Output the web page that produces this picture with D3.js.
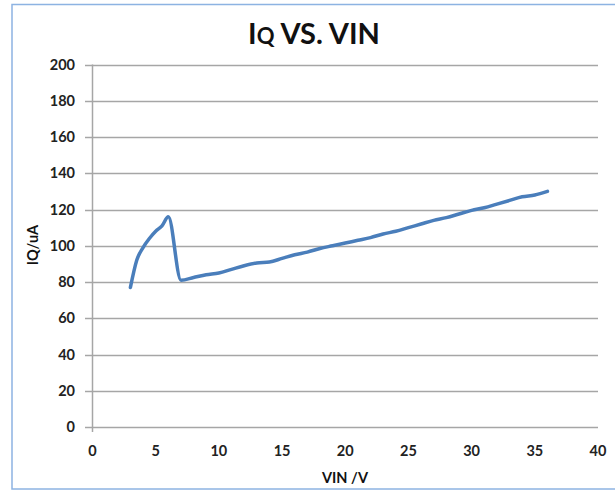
<!DOCTYPE html>
<html><head><meta charset="utf-8">
<script src="https://cdn.jsdelivr.net/npm/d3@7"></script>
<style>
html,body{margin:0;padding:0;background:#fff;}
text{font-family:Lato,"Open Sans",sans-serif;}
</style></head>
<body><svg id="c" width="615" height="491"></svg>
<script>
const vin = [3, 3.5, 4, 4.5, 5, 5.5, 6, 7, 8, 9, 10, 11, 12, 13, 14, 15, 16, 17, 18, 19, 20, 21, 22, 23, 24, 25, 26, 27, 28, 29, 30, 31, 32, 33, 34, 35, 36];
const iq  = [77, 92, 99, 104, 108, 111, 116, 81, 82.5, 84, 85, 87, 89, 90.5, 91, 93, 95, 96.5, 98.5, 100, 101.5, 103, 104.5, 106.5, 108, 110, 112, 114, 115.5, 117.5, 119.5, 121, 123, 125, 127, 128, 130];
const xTicks = [0, 5, 10, 15, 20, 25, 30, 35, 40];
const yTicks = [0, 20, 40, 60, 80, 100, 120, 140, 160, 180, 200];

const svg = d3.select("#c");
// frame
svg.append("rect").attr("x", 12).attr("y", 4.5).attr("width", 640).attr("height", 484.5)
  .attr("fill", "#fff").attr("stroke", "#8db3e2").attr("stroke-width", 1.5);

const x = d3.scaleLinear().domain([0, 40]).range([92.5, 598]);
const y = d3.scaleLinear().domain([0, 200]).range([427, 64.5]);

// gridlines
svg.append("g").selectAll("line").data(yTicks).join("line")
  .attr("x1", 85).attr("x2", 598)
  .attr("y1", d => Math.round(y(d)) + 0.5).attr("y2", d => Math.round(y(d)) + 0.5)
  .attr("stroke", "#a6a6a6").attr("stroke-width", 1.5);
// y axis line
svg.append("line").attr("x1", 92.5).attr("x2", 92.5).attr("y1", y(200)).attr("y2", y(0) + 5)
  .attr("stroke", "#a6a6a6").attr("stroke-width", 1.5);

// y tick labels
svg.append("g").selectAll("text").data(yTicks).join("text")
  .attr("x", 75).attr("y", d => y(d)).attr("dy", "0.36em")
  .attr("text-anchor", "end").attr("font-size", 14.5).attr("font-weight", 700).attr("fill", "#222")
  .text(d => d);
// x tick labels
svg.append("g").selectAll("text").data(xTicks).join("text")
  .attr("x", d => x(d)).attr("y", 456)
  .attr("text-anchor", "middle").attr("font-size", 14.5).attr("font-weight", 700).attr("fill", "#222")
  .text(d => d);

// line
const pts = vin.map((v, i) => [v, iq[i]]);
svg.append("path").datum(pts)
  .attr("d", d3.line().x(d => x(d[0])).y(d => y(d[1])).curve(d3.curveMonotoneX))
  .attr("fill", "none").attr("stroke", "#4a7ebb").attr("stroke-width", 3.5)
  .attr("stroke-linejoin", "round").attr("stroke-linecap", "round");

// title
const t = svg.append("text").attr("x", 314).attr("y", 44).attr("text-anchor", "middle")
  .attr("font-size", 29).attr("font-weight", 700).attr("fill", "#111");
t.append("tspan").text("I");
t.append("tspan").attr("font-size", 22).text("Q");
t.append("tspan").text(" VS. VIN");

// axis titles
svg.append("text").attr("x", 345).attr("y", 483).attr("text-anchor", "middle")
  .attr("font-size", 14.5).attr("font-weight", 700).attr("fill", "#111").text("VIN /V");
svg.append("text").attr("transform", "translate(38,245) rotate(-90)").attr("text-anchor", "middle")
  .attr("font-size", 14.5).attr("font-weight", 700).attr("fill", "#111").text("IQ/uA");
</script></body></html>
